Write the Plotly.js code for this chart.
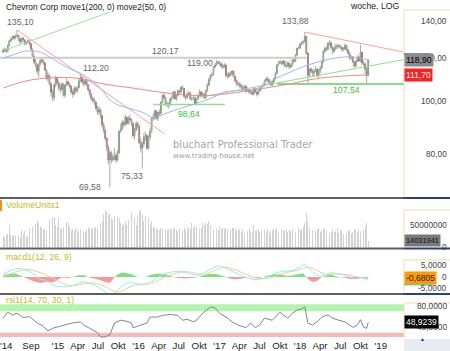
<!DOCTYPE html>
<html><head><meta charset="utf-8">
<script src="https://cdn.plot.ly/plotly-3.0.1.min.js"></script>
<style>html,body{margin:0;padding:0;background:#fff;}#chart{width:450px;height:351px;}</style>
</head><body><div id="chart"></div>
<script>
// ---- weekly OHLC (first week 2014-04-28) ----
const open = [
123.0,124.0,124.5,123.5,126.5,129.0,130.0,131.5,130.5,131.5,132.0,130.0,
128.5,130.5,129.5,127.5,128.5,129.0,127.5,124.5,121.0,118.0,116.5,113.5,
117.0,119.0,118.5,117.5,114.0,110.0,111.5,107.5,104.0,101.5,107.0,110.5,
108.0,106.0,105.0,107.5,102.5,107.0,108.5,107.5,106.5,104.0,103.0,105.5,
104.5,106.0,109.0,110.5,108.5,107.5,109.0,107.0,105.0,103.0,101.0,100.5,
99.5,97.0,95.5,96.5,94.0,90.5,88.5,85.5,82.5,78.0,80.5,78.0,
79.0,79.5,78.0,80.5,88.0,89.0,91.5,90.5,93.5,91.0,93.0,92.5,
91.0,86.5,88.5,91.0,
90.0,84.0,82.0,83.5,86.0,86.5,82.0,86.0,88.0,93.0,93.5,96.0,
93.0,95.5,95.0,99.5,102.5,101.5,98.5,99.0,98.5,101.0,101.5,104.0,
101.0,102.5,104.5,104.0,106.0,105.5,102.0,101.5,103.0,103.5,101.0,101.0,
101.5,99.0,101.0,102.5,104.0,102.5,103.0,101.5,104.5,107.0,109.5,111.5,
112.0,115.5,116.5,118.0,
117.5,117.0,116.0,115.5,116.5,111.5,111.0,112.5,112.0,113.5,111.0,109.0,
107.5,107.5,107.0,106.0,105.5,106.5,104.5,105.0,104.0,104.0,103.0,105.5,
104.0,103.0,104.5,105.5,106.5,107.0,109.0,110.0,109.5,108.0,107.0,108.5,
110.0,112.5,116.5,117.5,118.0,117.0,118.5,116.0,116.0,117.5,115.5,116.5,
119.0,118.5,121.5,125.0,
125.2,127.5,128.0,128.5,131.5,122.5,111.5,114.5,113.5,112.5,113.5,114.5,
111.5,114.0,115.0,118.0,123.5,125.0,124.5,127.5,128.0,125.5,123.5,125.0,
126.0,126.5,126.0,125.5,124.5,124.5,126.5,124.0,122.5,120.0,120.5,118.0,
116.0,118.5,120.5,118.5,123.0,117.5,117.0,114.5,111.5];
const high = [
125.0,125.5,125.0,127.0,129.5,130.8,132.0,132.0,132.5,135.1,132.5,130.5,
131.0,131.0,130.0,129.0,130.0,129.5,128.0,125.0,122.0,119.5,117.0,117.5,
119.5,120.0,119.5,118.0,114.5,113.0,112.0,108.5,105.0,108.0,111.5,111.0,
109.0,107.5,108.5,108.0,107.5,110.0,109.0,108.0,107.0,105.0,106.5,106.5,
106.5,110.0,112.2,111.0,109.5,110.0,109.5,107.5,105.5,103.5,102.0,101.5,
100.0,98.0,98.0,97.0,94.5,91.5,89.0,86.0,83.0,81.5,81.0,80.0,
82.0,80.5,81.5,88.5,91.0,92.5,92.0,94.5,93.5,94.0,94.5,93.0,
91.5,89.5,92.0,91.5,
90.5,85.5,84.5,87.5,88.0,87.0,86.5,89.5,93.5,95.0,96.5,96.5,
95.5,96.5,100.0,103.0,103.5,101.5,100.0,99.5,101.5,102.5,104.5,104.5,
103.0,105.0,105.0,106.5,107.0,105.5,102.5,104.0,104.5,104.0,102.0,102.5,
102.0,101.5,103.0,105.0,104.5,104.0,103.5,105.0,108.0,110.5,112.0,113.0,
116.0,117.5,119.0,118.5,
118.5,118.0,117.0,117.5,117.0,112.5,113.0,113.5,114.0,113.5,111.5,109.5,
108.5,108.5,107.5,107.0,107.0,107.0,106.0,105.5,105.0,104.5,106.0,106.0,
104.5,105.0,106.0,107.0,108.0,109.5,110.5,111.0,110.0,108.5,109.0,110.5,
113.0,117.0,118.5,119.0,118.5,119.0,118.5,117.5,118.5,118.0,117.0,119.5,
120.0,122.0,125.5,126.0,
128.0,129.0,129.5,133.88,131.5,123.0,115.0,115.5,114.5,114.5,116.0,115.0,
114.5,116.0,119.0,124.0,126.0,126.0,128.5,129.5,128.5,126.0,126.0,127.5,
127.5,127.0,127.0,126.0,125.5,127.5,127.0,125.0,123.0,121.5,121.0,118.5,
119.0,121.5,121.0,127.0,123.5,118.5,118.0,116.0,119.5];
const low = [
122.5,123.0,122.5,123.0,126.0,128.5,129.5,129.5,130.0,131.0,129.0,127.0,
128.0,128.5,126.5,127.0,127.5,126.5,124.0,120.5,117.0,115.5,112.0,110.5,
116.0,117.5,116.5,113.5,109.5,108.5,107.0,102.0,100.0,100.5,106.0,107.0,
104.5,103.5,104.5,102.0,101.5,106.5,106.5,105.5,103.0,101.5,102.5,103.5,
103.5,105.5,108.5,107.5,106.5,107.0,106.5,104.0,102.0,100.0,99.5,98.5,
96.5,94.5,94.5,93.0,89.5,87.5,84.5,81.0,76.5,69.58,77.0,77.5,
78.0,77.0,77.5,80.0,87.5,88.5,89.5,90.0,90.5,90.5,91.5,90.0,
85.5,85.0,88.0,89.0,
83.5,80.5,75.33,82.5,84.5,81.5,81.5,85.0,87.5,92.0,92.5,92.5,
92.0,94.0,94.5,99.0,100.5,98.0,97.5,97.0,98.0,100.0,101.0,100.5,
100.0,102.0,103.0,103.5,105.0,101.5,100.5,101.0,102.5,100.5,100.0,100.5,
98.64,99.0,100.5,102.0,102.0,102.0,101.0,101.0,104.0,106.5,109.0,110.5,
111.5,115.0,116.0,117.0,
116.0,115.0,114.5,115.0,110.5,110.0,110.5,111.0,111.5,110.5,108.0,106.5,
106.5,105.5,105.0,104.5,105.0,103.5,104.0,103.0,103.0,102.5,102.5,103.5,
102.0,102.5,104.0,105.0,106.0,106.5,108.5,108.5,107.5,106.5,106.5,108.0,
109.5,112.0,116.0,117.0,116.5,116.5,115.5,115.0,115.5,114.5,115.0,116.0,
117.5,118.0,121.0,124.5,
124.5,126.5,127.0,128.0,121.5,107.54,110.5,112.5,111.0,111.0,113.0,110.5,
110.5,112.5,114.5,117.5,122.5,123.5,124.0,126.5,124.5,122.0,122.5,124.0,
124.5,125.0,124.5,123.0,123.5,124.0,123.5,121.5,119.0,119.0,117.5,115.0,
115.5,118.0,118.0,118.0,116.5,116.0,112.0,107.6,111.0];
const close = [
124.0,124.5,123.5,126.5,129.0,130.0,131.5,130.5,131.5,132.0,130.0,128.5,
130.5,129.5,127.5,128.5,129.0,127.5,124.5,121.0,118.0,116.5,113.5,117.0,
119.0,118.5,117.5,114.0,110.0,111.5,107.5,104.0,101.5,107.0,110.5,108.0,
106.0,105.0,107.5,102.5,107.0,108.5,107.5,106.5,104.0,103.0,105.5,104.5,
106.0,109.0,110.5,108.5,107.5,109.0,107.0,105.0,103.0,101.0,100.5,99.5,
97.0,95.5,96.5,94.0,90.5,88.5,85.5,82.5,78.0,80.5,78.0,79.0,
79.5,78.0,80.5,88.0,89.0,91.5,90.5,93.5,91.0,93.0,92.5,91.0,
86.5,88.5,91.0,90.0,
84.0,82.0,83.5,86.0,86.5,82.0,86.0,88.0,93.0,93.5,96.0,93.0,
95.5,95.0,99.5,102.5,101.5,98.5,99.0,98.5,101.0,101.5,104.0,101.0,
102.5,104.5,104.0,106.0,105.5,102.0,101.5,103.0,103.5,101.0,101.0,101.5,
99.0,101.0,102.5,104.0,102.5,103.0,101.5,104.5,107.0,109.5,111.5,112.0,
115.5,116.5,118.0,117.5,
117.0,116.0,115.5,116.5,111.5,111.0,112.5,112.0,113.5,111.0,109.0,107.5,
107.5,107.0,106.0,105.5,106.5,104.5,105.0,104.0,104.0,103.0,105.5,104.0,
103.0,104.5,105.5,106.5,107.0,109.0,110.0,109.5,108.0,107.0,108.5,110.0,
112.5,116.5,117.5,118.0,117.0,118.5,116.0,116.0,117.5,115.5,116.5,119.0,
118.5,121.5,125.0,125.2,
127.5,128.0,128.5,131.5,122.5,111.5,114.5,113.5,112.5,113.5,114.5,111.5,
114.0,115.0,118.0,123.5,125.0,124.5,127.5,128.0,125.5,123.5,125.0,126.0,
126.5,126.0,125.5,124.5,124.5,126.5,124.0,122.5,120.0,120.5,118.0,116.0,
118.5,120.5,118.5,123.0,117.5,117.0,114.5,111.5,118.9];
// weekly volume, millions
const volume = [
25,22,27,30,50,28,25,27,24,28,26,22,38,30,36,22,24,43,40,45,68,52,60,55,48,
43,40,42,38,80,61,55,65,68,50,45,66,43,40,45,42,57,55,45,
38,40,36,43,39,35,40,42,37,34,38,45,42,44,40,46,43,45,50,55,60,75,84,80,73,
78,65,62,70,61,68,66,55,48,52,60,50,62,55,80,58,65,50,70,82,84,75,60,
70,55,65,50,60,45,43,40,42,38,44,43,40,42,38,40,42,39,43,41,38,36,42,40,37,43,39,41,
45,40,55,43,50,45,47,44,43,55,50,55,52,60,50,58,42,55,40,38,45,42,43,40,
43,42,40,38,44,43,40,36,40,38,35,42,32,38,37,40,34,36,50,
36,38,40,35,37,42,38,34,40,36,33,39,41,38,43,35,37,40,36,39,42,34,38,36,40,37,35,41,43,38,40,45,
55,77,60,45,40,38,42,36,40,44,35,38,42,
40,36,38,33,35,41,34,37,43,32,36,38,30,35,33,38,36,32,34,40,38,35,42,36,37,40,
48,55,14.03];
// moving averages (week index, value)
const ma200Week = [0,10,20,35,50,63,75,84,95,106,118,127,137,146,165,187,197,208,222,236];
const ma200Val  = [105.7,108.0,109.6,110.5,110.0,107.8,106.5,105.7,104.5,103.5,102.7,102.3,102.6,103.3,105.2,107.8,109.3,110.5,111.3,111.7];
const ma50Week = [0,8,14,24,30,41,52,63,69,74,80,91,97,106,116,127,137,144,165,176,187,197,215,226,236];
const ma50Val  = [120.0,122.0,123.5,123.0,120.5,115.5,111.7,105.7,100.6,98.5,97.3,95.2,93.3,95.2,97.3,99.5,102.0,104.0,105.7,110.0,113.5,116.5,120.0,120.5,118.9];
// trend lines / levels
const tlRed1X = ['2014-06-30','2016-04-28'], tlRed1Y = [135.1, 87.1];
const tlRed2X = ['2018-01-22','2019-04-16'], tlRed2Y = [133.88, 123.0];
const tlGreen1X = ['2014-05-05','2015-08-24'], tlGreen1Y = [124.0, 145.7];
const tlGreen2X = ['2016-09-01','2019-04-16'], tlGreen2Y = [101.1, 119.2];
const lvl98X = ['2016-03-07','2017-01-25'], lvl98 = 98.64;
const lvl107X = ['2017-09-20','2019-04-16'], lvl107 = 107.54;
const lvl120X = ['2014-04-14','2018-01-29'], lvl120 = 120.17;
// MACD (week index)
const macdWeek = [0,4,8,12,16,20,24,28,32,36,40,44,48,52,56,60,64,68,72,76,80,84,88,92,96,100,104,108,112,116,120,124,128,132,136,140,144,148,152,156,160,164,168,172,176,180,184,188,192,195,200,204,208,212,216,220,224,228,232,236];
const macdVal = [1.2,2.5,3.5,3.6,2.8,1.0,-1.0,-1.5,-3.5,-4.2,-4.3,-4.0,-3.0,-2.2,-2.8,-3.8,-5.5,-7.2,-7.0,-4.5,-2.8,-2.6,-3.2,-3.0,-1.8,-0.2,1.3,2.0,2.4,2.2,1.6,0.8,1.2,2.6,4.0,4.8,3.8,2.6,1.2,0.0,-0.8,-1.2,-0.6,0.2,1.5,2.4,2.6,3.0,4.4,5.2,2.2,0.4,0.9,1.8,1.3,0.9,0.0,-0.8,-0.4,-1.5];
const sigVal = [0.8,1.3,2.2,2.9,3.2,2.8,1.8,0.8,-0.6,-2.0,-3.2,-3.8,-3.6,-3.0,-2.6,-2.8,-3.6,-5.0,-6.3,-6.4,-5.0,-3.8,-3.2,-3.3,-2.8,-1.6,-0.2,0.9,1.7,2.2,2.2,1.6,1.1,1.4,2.6,3.7,4.2,3.6,2.6,1.4,0.2,-0.6,-0.9,-0.5,0.3,1.4,2.1,2.5,3.2,4.0,3.8,2.4,1.2,1.1,1.3,1.2,0.8,0.1,-0.3,-0.68];
const histWeek = [0,4,8,11,13,16,20,24,28,32,35,38,42,45,48,52,55,58,62,66,69,71,72,74,77,80,84,87,89,92,95,99,103,107,110,113,118,123,126,129,133,137,141,144,147,151,155,158,162,166,168,172,176,180,183,186,190,194,196,198,200,203,206,209,212,215,217,220,224,228,231,234,236];
const histVal = [0.4,1.2,1.5,0.5,0,-0.8,-2.0,-2.6,-2.2,-2.4,-1.2,-0.3,-0.5,0,0.6,0.8,0,-0.6,-1.2,-2.2,-2.6,-1.0,0,1.0,1.9,1.6,0.9,0,-0.3,0,0.8,1.4,1.3,0.8,0,-0.5,-0.7,-0.4,0,0.6,1.3,1.4,0.7,0,-0.8,-1.0,-0.6,0,-0.3,-0.4,0,0.7,1.2,1.0,0.4,0.5,1.2,1.5,0,-1.5,-2.2,-1.8,0,0.6,1.0,0.3,0,-0.3,-0.8,-1.0,-0.5,-0.6,-0.8];
// RSI (week index)
const rsiWeek = [0,3,6,9,13,17,22,26,29,32,37,41,45,50,52,56,61,63,66,69,72,76,80,83,84,89,93,95,100,103,108,113,116,119,123,125,129,134,137,140,144,148,152,157,160,163,166,169,174,176,179,181,184,187,190,193,195,197,200,203,206,210,213,217,221,226,229,231,233,235,236];
const rsiVal = [57,68,63,66,58,60,48,42,33,38,42,45,48,50,44,38,30,22,22,26,48,53,51,48,39,44,48,59,59,62,64,62,53,55,50,53,66,78,76,66,59,50,44,39,48,39,45,57,53,59,68,63,57,66,72,74,78,48,44,50,59,63,57,53,50,40,44,54,40,38,48.92];
// axis labels
const xTickVals = ['2014-05-12','2014-09-01','2015-01-01','2015-04-01','2015-07-01','2015-10-01','2016-01-01','2016-04-01','2016-07-01','2016-10-01','2017-01-01','2017-04-01','2017-07-01','2017-10-01','2018-01-01','2018-04-01','2018-07-01','2018-10-01','2019-01-01'];
const xTickText = ["'14",'Sep',"'15",'Apr','Jul','Okt',"'16",'Apr','Jul','Okt',"'17",'Apr','Jul','Okt',"'18",'Apr','Jul','Okt',"'19"];
const priceTicks = [80,100,120,140], priceTickText = ['80,00','100,00','120,00','140,00'];
const volTicks = [0,50], volTickText = ['0','50000000'];
const macdTicks = [-5,0,5], macdTickText = ['-5,0000','0','5,0000'];
const rsiTicks = [40,80], rsiTickText = ['40,0000','80,0000'];

const DAY = 86400000;
function wk(i){ return new Date(Date.UTC(2014,3,28) + i*7*DAY).toISOString().slice(0,10); }
const dates = close.map((_, i) => wk(i));
const bodyHi = open.map((o, i) => Math.max(o, close[i]));
const bodyLo = open.map((o, i) => Math.min(o, close[i]));
const L = Math.log10;
const F = 'Liberation Sans, Arial, sans-serif';

function line(x, y, color, width, axis, extra){
  return Object.assign({type:'scatter', mode:'lines', x, y, line:{color, width}, xaxis:'x', yaxis:axis||'y', hoverinfo:'skip'}, extra||{});
}
const traces = [
  line(lvl120X, [lvl120, lvl120], '#cdcdcd', 2),
  line(lvl98X, [lvl98, lvl98], '#8fe08f', 1.5),
  line(lvl107X, [lvl107, lvl107], '#86dc86', 2),
  line(tlGreen1X, tlGreen1Y, '#9ae39a', 1),
  line(tlGreen2X, tlGreen2Y, '#90de90', 1),
  line(tlRed1X, tlRed1Y, '#f5a3a3', 1),
  line(tlRed2X, tlRed2Y, '#f5a3a3', 1),
  {type:'ohlc', x:dates, open, high, low, close, tickwidth:0,
   increasing:{line:{color:'#a9a9a9', width:1}}, decreasing:{line:{color:'#a9a9a9', width:1}},
   xaxis:'x', yaxis:'y', hoverinfo:'skip'},
  {type:'candlestick', x:dates, open, high:bodyHi, low:bodyLo, close, whiskerwidth:0,
   increasing:{line:{color:'#2f8a2f', width:0.6}, fillcolor:'#2f8a2f'},
   decreasing:{line:{color:'#8c1c1c', width:0.6}, fillcolor:'#8c1c1c'},
   xaxis:'x', yaxis:'y', hoverinfo:'skip'},
  line(ma200Week.map(wk), ma200Val, '#f08888', 1, 'y', {line:{color:'#f08888', width:1, shape:'spline'}}),
  line(ma50Week.map(wk), ma50Val, '#9db6f4', 1, 'y', {line:{color:'#9db6f4', width:1, shape:'spline'}}),
  {type:'bar', x:dates, y:volume, width:4*DAY, marker:{color:'#d2d2d2', line:{width:0}}, xaxis:'x', yaxis:'y2', hoverinfo:'skip'},
  line(histWeek.map(wk), histVal.map(v => Math.max(v, 0)), '#7ee07e', 0, 'y3', {fill:'tozeroy', fillcolor:'#7ee07e'}),
  line(histWeek.map(wk), histVal.map(v => Math.min(v, 0)), '#f59a9a', 0, 'y3', {fill:'tozeroy', fillcolor:'#f59a9a'}),
  line(macdWeek.map(wk), sigVal, '#ffc88c', 1, 'y3', {line:{color:'#ffc88c', width:1, shape:'spline'}}),
  line(macdWeek.map(wk), macdVal, '#80f4ff', 1, 'y3', {line:{color:'#80f4ff', width:1, shape:'spline'}}),
  line(rsiWeek.map(wk), rsiVal, '#858585', 1, 'y4')
];

const yBase = {side:'right', anchor:'x', showgrid:false, zeroline:false, showline:false, ticks:'', showticklabels:false, fixedrange:true};
const R = 450/404;
function hl(y, x0, x1, color, w){ return {type:'line', xref:'paper', yref:'paper', x0, x1, y0:y, y1:y, line:{color, width:w}}; }
function vl(x, y0, y1, color, w){ return {type:'line', xref:'paper', yref:'paper', x0:x, x1:x, y0, y1, line:{color, width:w}}; }
const BEIGE = '#f1dcaa';
const shapes = [
  {type:'rect', xref:'paper', yref:'y4', x0:0, x1:1, y0:70, y1:83, fillcolor:'#b4f4b0', line:{width:0}, layer:'below'},
  {type:'rect', xref:'paper', yref:'y4', x0:0, x1:1, y0:22, y1:30, fillcolor:'#f6b8b8', line:{width:0}, layer:'below'},
  vl(1, 0.41716, 0.97041, BEIGE, 1), hl(0.97041, 1, R, BEIGE, 1),
  vl(1, 0.26923, 0.37870, BEIGE, 1), hl(0.37870, 1, R, BEIGE, 1),
  vl(1, 0.13609, 0.23077, BEIGE, 1), hl(0.23077, 1, R, BEIGE, 1),
  vl(1, 0, 0.10355, BEIGE, 1), hl(0.10355, 1, R, BEIGE, 1),
  hl(0.41420, 0, 1, '#5e5e5e', 2), hl(0.41420, 1, R, '#2e3f7f', 2),
  hl(0.26479, 0, 1, '#5e5e5e', 2), hl(0.26479, 1, R, '#2e3f7f', 2),
  hl(0.13018, 0, 1, '#5e5e5e', 2), hl(0.13018, 1, R, '#2e3f7f', 2),
  {type:'rect', xref:'paper', yref:'paper', x0:0, x1:2/404, y0:0.3757, y1:0.4083, fillcolor:'#ff8c1a', line:{width:0}},
  {type:'rect', xref:'paper', yref:'paper', x0:1, x1:R, y0:-0.0385, y1:-0.0030, fillcolor:'#e8ebf2', line:{width:0}},
  {type:'line', xref:'paper', x0:1, x1:1+27/404, yref:'y', ysizemode:'pixel', yanchor:118.9, y0:6, y1:6, line:{color:'#4a78d8', width:2}},
  {type:'line', xref:'paper', x0:1, x1:1+29/404, yref:'y3', ysizemode:'pixel', yanchor:-0.68, y0:-6, y1:-6, line:{color:'#22e0f0', width:2}}
];

function pl(text, x, y, opt){
  return Object.assign({text, x, y, xref:'x', yref:'y', showarrow:false, font:{family:F, size:8.7, color:'#666'}}, opt);
}
const GREEN = {family:F, size:8.7, color:'#3cbf3c'};
function pt(text, px, py, opt){
  return Object.assign({text, x:px/404, y:1-py/338, xref:'paper', yref:'paper', showarrow:false, xanchor:'left', yanchor:'middle', font:{family:F, size:8.7, color:'#1a1a1a'}}, opt);
}
function tag(text, yref, y, bg, fg, size){
  return {text, xref:'paper', x:1, xanchor:'left', yref, y, yanchor:'middle', showarrow:false, bgcolor:bg, borderpad:1, font:{family:F, size:size||8.5, color:fg}};
}
// right-aligned axis tick labels, positioned through each axis scale
function ylabs(vals, texts, yref, isLog){
  return vals.map((v, k) => ({text:texts[k], xref:'paper', x:449/404, xanchor:'right', yref, y:isLog ? L(v) : v,
    yanchor:'middle', showarrow:false, font:{family:F, size:8.3, color:'#444'}}));
}
const PANEL = {family:F, size:8.7, color:'#c9b92a'};
const annotations = [].concat(
  ylabs(priceTicks, priceTickText, 'y', true),
  ylabs(volTicks, volTickText, 'y2', false),
  ylabs(macdTicks, macdTickText, 'y3', false),
  ylabs(rsiTicks, rsiTickText, 'y4', false),
  [
  pt('Chevron Corp move1(200, 0) move2(50, 0)', 4, 7, {font:{family:F, size:8.4, color:'#1a1a1a'}}),
  pt('woche, LOG', 402, 6, {xanchor:'right'}),
  pt('bluchart Professional Trader', 171, 144.5, {font:{family:'DejaVu Sans, sans-serif', size:10, color:'#a6a6a6'}}),
  pt('www.trading-house.net', 171, 156, {font:{family:'DejaVu Sans, sans-serif', size:7, color:'#9a9a9a'}}),
  pt('VolumeUnits1', 4, 205, {font:PANEL}),
  pt('macd1(12, 26, 9)', 4, 257, {font:PANEL}),
  pt('rsi1(14, 70, 30, 1)', 4, 300, {font:PANEL}),
  pl('135,10', wk(9), L(135.1), {xanchor:'center', yanchor:'bottom', xshift:3, yshift:1}),
  pl('112,20', wk(50), L(112.2), {xanchor:'left', yanchor:'middle', xshift:1, yshift:6}),
  pl('120,17', '2016-02-22', L(lvl120), {xanchor:'left', yanchor:'bottom', yshift:0}),
  pl('119,00', wk(138), L(119), {xanchor:'right', yanchor:'middle', xshift:-2, yshift:-3}),
  pl('133,88', wk(195), L(133.88), {xanchor:'center', yanchor:'bottom', xshift:-9, yshift:4}),
  pl('107,54', '2018-05-28', L(lvl107), {xanchor:'left', yanchor:'middle', xshift:-2, yshift:-6, font:GREEN}),
  pl('98,64', '2016-06-13', L(lvl98), {xanchor:'left', yanchor:'middle', xshift:1, yshift:-10, font:GREEN}),
  pl('69,58', wk(69), L(69.58), {xanchor:'right', yanchor:'middle', xshift:-7, yshift:0}),
  pl('75,33', wk(90), L(75.33), {xanchor:'center', yanchor:'middle', xshift:-10, yshift:-8}),
  tag('118,90', 'y', L(118.9), '#8c8c8c', '#000'),
  tag('111,70', 'y', L(111.7), '#ff1f1f', '#fff'),
  tag('14031941', 'y2', 14.03, '#7a7a7a', '#111', 7.4),
  tag('-0,6805', 'y3', -0.68, '#ff9a00', '#222'),
  tag('48,9239', 'y4', 48.92, '#000', '#fff'),
  {text:'\u25B2', xref:'paper', yref:'paper', x:427/404, y:1-344/338, showarrow:false, font:{size:5, color:'#1a2a8a'}}
  ]);

const layout = {
  width:450, height:351, margin:{l:0, r:46, t:0, b:13},
  paper_bgcolor:'#fff', plot_bgcolor:'#fff', showlegend:false,
  font:{family:F, size:8.5, color:'#333'},
  xaxis:{type:'date', range:['2014-04-14','2019-04-16'], domain:[0,1], anchor:'y4', rangeslider:{visible:false},
         showgrid:false, zeroline:false, showline:false, ticks:'', tickmode:'array', tickvals:xTickVals, ticktext:xTickText,
         ticklabeloverflow:'allow', tickfont:{family:F, size:9.7, color:'#222'}, fixedrange:true},
  yaxis:Object.assign({}, yBase, {domain:[0.41716,1], type:'log', range:[1.82445,2.18546]}),
  yaxis2:Object.assign({}, yBase, {domain:[0.26923,0.40828], range:[0,107]}),
  yaxis3:Object.assign({}, yBase, {domain:[0.13314,0.26036], range:[-7,11.7]}),
  yaxis4:Object.assign({}, yBase, {domain:[0,0.12722], range:[20,100]}),
  shapes, annotations, bargap:0
};
Plotly.newPlot('chart', traces, layout, {staticPlot:true, displayModeBar:false});
</script></body></html>
